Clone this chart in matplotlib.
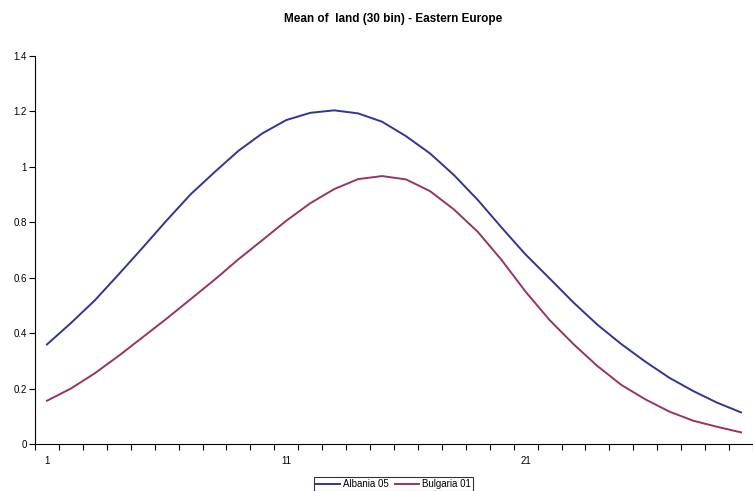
import matplotlib
matplotlib.use("Agg")
import matplotlib.pyplot as plt
from matplotlib.ticker import FixedLocator

plt.rcParams["font.family"] = ["Liberation Sans", "DejaVu Sans"]

bins = list(range(1, 31))
albania_05 = [0.359, 0.436, 0.518, 0.612, 0.708, 0.806, 0.900, 0.980, 1.057, 1.120,
              1.168, 1.194, 1.203, 1.192, 1.162, 1.110, 1.048, 0.970, 0.880, 0.780,
              0.683, 0.597, 0.510, 0.430, 0.360, 0.297, 0.239, 0.191, 0.149, 0.114]
bulgaria_01 = [0.156, 0.200, 0.255, 0.318, 0.385, 0.452, 0.522, 0.592, 0.666, 0.735,
               0.805, 0.868, 0.919, 0.955, 0.966, 0.954, 0.912, 0.846, 0.765, 0.663,
               0.549, 0.447, 0.360, 0.281, 0.213, 0.161, 0.117, 0.084, 0.062, 0.042]
x_labels = [1, 11, 21]
y_ticks = [0, 0.2, 0.4, 0.6, 0.8, 1, 1.2, 1.4]

fig = plt.figure(figsize=(7.53, 4.91), dpi=100)
ax = fig.add_axes([35 / 753, 47 / 491, 718 / 753, 388.3 / 491])

ax.plot(bins, albania_05, color="#333399", lw=1.4, label="Albania 05")
ax.plot(bins, bulgaria_01, color="#993366", lw=1.4, label="Bulgaria 01")

ax.set_xlim(0.5, 30.5)
ax.set_ylim(0, 1.4)
ax.set_yticks(y_ticks)
ax.set_yticklabels(["0", "0.2", "0.4", "0.6", "0.8", "1", "1.2", "1.4"])
ax.set_xticks(x_labels)
ax.xaxis.set_minor_locator(FixedLocator([b + 0.5 for b in range(0, 31)]))
ax.tick_params(axis="x", which="major", length=0, pad=9, labelsize=7)
ax.tick_params(axis="x", which="minor", length=4, width=0.8, direction="out")
ax.tick_params(axis="y", length=4, width=0.8, direction="out", labelsize=7, pad=2)

for side in ["top", "right"]:
    ax.spines[side].set_visible(False)
ax.spines["left"].set_linewidth(0.8)
ax.spines["bottom"].set_linewidth(0.8)

fig.text(393 / 753, 1 - 19 / 491, "Mean of  land (30 bin) - Eastern Europe",
         ha="center", va="center", fontsize=8.5, fontweight="bold")

leg = fig.legend(loc="center", bbox_to_anchor=(393.5 / 753, 1 - 484 / 491), ncol=2,
                 fontsize=7, frameon=True, fancybox=False, edgecolor="black",
                 handlelength=2.5, handletextpad=0.3, columnspacing=0.6,
                 borderpad=0.2, borderaxespad=0)
leg.get_frame().set_linewidth(0.8)

fig.savefig("out.png", dpi=100)
